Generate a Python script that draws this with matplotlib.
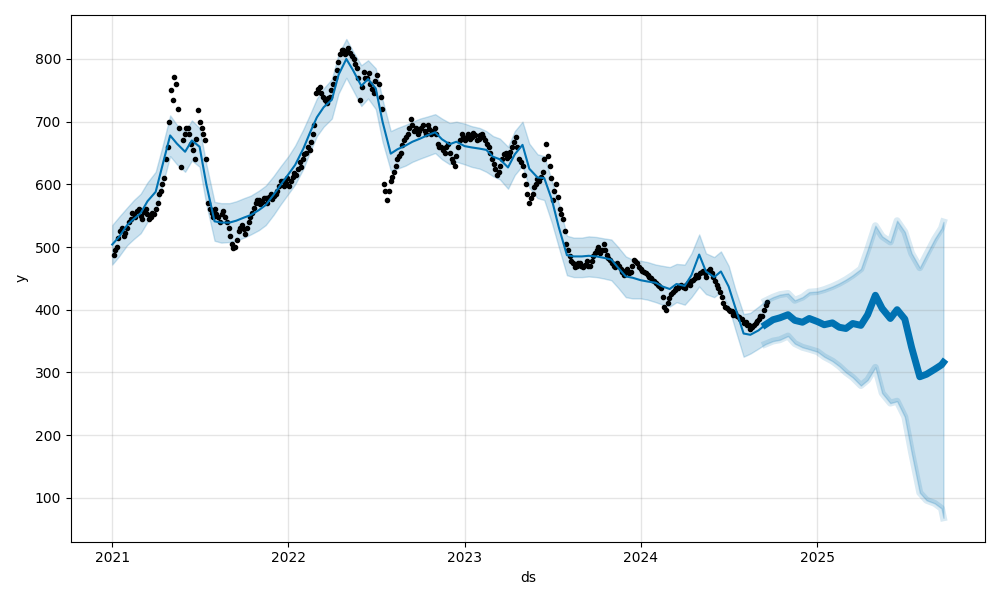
import matplotlib.pyplot as plt
import numpy as np
import pandas as pd
from matplotlib.dates import AutoDateLocator, AutoDateFormatter

# Observed values, one per week (Mondays) starting 2021-01-04
obs_2021 = [488, 500, 525, 518, 530, 545, 552, 558, 550, 556,
            552, 548, 552, 570, 590, 610, 660, 750, 772, 720,
            628, 680, 690, 665, 640, 718, 690, 670, 570, 555,
            560, 548, 552, 548, 530, 505, 500, 525, 535, 520,
            540, 555, 570, 575, 572, 578, 580, 577, 585, 598,
            605, 602]
obs_2022 = [598, 612, 615, 635, 640, 650, 655, 680, 745, 755,
            740, 730, 740, 760, 782, 808, 815, 812, 810, 800,
            785, 735, 780, 770, 760, 745, 775, 740, 600, 575,
            605, 620, 640, 650, 670, 680, 705, 685, 680, 690,
            685, 695, 680, 690, 665, 660, 650, 665, 640, 630,
            660, 680]
obs_2023 = [670, 680, 675, 678, 672, 680, 670, 660, 640, 625,
            620, 640, 650, 645, 660, 675, 640, 630, 600, 570,
            585, 600, 605, 620, 665, 630, 575, 600, 560, 545,
            505, 485, 475, 470, 475, 468, 478, 470, 485, 495,
            490, 505, 488, 480, 470, 475, 465, 455, 465, 460,
            480, 475]
obs_2024 = [465, 460, 455, 450, 445, 440, 435, 405, 410, 425,
            432, 435, 440, 435, 442, 445, 450, 452, 460, 458,
            462, 458, 445, 435, 420, 405, 400, 398, 395, 388,
            385, 380, 375, 372, 378, 385, 390, 408]

# mid-week observations (Thursdays), same weeks
mid_2021 = [495, 515, 530, 522, 540, 555, 548, 560, 545, 560,
            545, 555, 560, 585, 600, 640, 700, 735, 760, 690,
            670, 690, 680, 655, 672, 700, 680, 640, 560, 548,
            552, 540, 558, 540, 518, 498, 512, 530, 528, 530,
            548, 562, 575, 568, 578, 570, 584, 582, 590, 605,
            598, 610]
mid_2022 = [605, 618, 625, 628, 648, 660, 668, 695, 752, 745,
            735, 738, 750, 770, 795, 815, 808, 818, 805, 792,
            770, 755, 770, 778, 752, 765, 760, 720, 590, 590,
            612, 630, 645, 662, 675, 690, 695, 690, 685, 695,
            680, 688, 685, 680, 660, 655, 660, 650, 635, 645,
            670, 675]
mid_2023 = [675, 672, 682, 670, 678, 675, 665, 650, 632, 615,
            630, 648, 642, 652, 668, 660, 635, 615, 585, 578,
            595, 608, 612, 640, 645, 610, 590, 580, 552, 525,
            495, 478, 468, 475, 470, 472, 470, 478, 490, 500,
            495, 495, 482, 475, 468, 470, 460, 462, 458, 470,
            478, 468]
mid_2024 = [462, 458, 452, 448, 442, 438, 420, 400, 418, 428,
            435, 438, 436, 440, 440, 448, 455, 458, 462, 452,
            465, 452, 440, 428, 410, 402, 398, 392, 390, 385,
            378, 376, 370, 375, 382, 390, 400, 412]

# Forecast (yhat) and interval, sampled on the 1st and 15th of each month
yhat_2021 = [504, 516, 535, 545, 554, 573, 588, 630, 678, 665, 652, 670,
             660, 600, 541, 539, 539, 542, 547, 551, 559, 567, 583, 598]
yhat_2022 = [616, 631, 657, 683, 707, 723, 735, 775, 800, 782, 757, 768,
             753, 700, 649, 656, 662, 668, 673, 678, 683, 672, 664, 668]
yhat_2023 = [661, 659, 657, 655, 644, 640, 627, 648, 663, 625, 611, 610,
             575, 532, 487, 485, 485, 486, 485, 483, 480, 467, 453, 451]
yhat_2024 = [447, 445, 443, 437, 433, 441, 438, 455, 488, 461, 452, 461,
             437, 403, 362, 360, 367, 376, 384, 387, 392, 383, 380, 386]
yhat_2025 = [381, 376, 379, 372, 370, 378, 375, 392, 423, 402, 386, 400,
             385, 340, 293, 297, 305, 312, 316]

upper_2021 = [535, 548, 563, 575, 585, 603, 620, 660, 710, 695, 684, 702,
              690, 632, 572, 570, 570, 573, 578, 582, 590, 598, 613, 628]
upper_2022 = [645, 662, 688, 712, 737, 753, 768, 808, 832, 812, 790, 798,
              785, 735, 685, 690, 695, 700, 705, 708, 712, 705, 698, 700]
upper_2023 = [697, 693, 690, 685, 677, 673, 660, 685, 700, 665, 648, 645,
              605, 570, 518, 515, 515, 517, 516, 514, 512, 500, 485, 480]
upper_2024 = [478, 476, 472, 470, 468, 473, 472, 490, 520, 490, 484, 493,
              470, 432, 393, 395, 405, 414, 420, 424, 426, 415, 420, 428]
upper_2025 = [429, 432, 437, 442, 448, 455, 465, 496, 534, 517, 508, 542,
              524, 490, 467, 488, 513, 530, 540]

lower_2021 = [472, 485, 503, 513, 522, 540, 555, 598, 645, 632, 620, 638,
              628, 568, 510, 507, 508, 510, 515, 520, 527, 535, 551, 567]
lower_2022 = [585, 600, 625, 652, 677, 692, 705, 745, 770, 750, 725, 737,
              720, 668, 622, 625, 630, 636, 641, 645, 650, 640, 632, 636]
lower_2023 = [632, 628, 625, 620, 613, 608, 593, 615, 630, 595, 578, 575,
              538, 500, 455, 452, 452, 453, 452, 450, 447, 435, 420, 418]
lower_2024 = [418, 416, 412, 408, 405, 412, 408, 420, 437, 425, 420, 428,
              405, 368, 325, 330, 338, 345, 350, 352, 358, 346, 340, 337]
lower_2025 = [333, 325, 318, 310, 300, 292, 279, 288, 308, 267, 251, 254,
              229, 172, 108, 96, 91, 83, 68]

y_mon = obs_2021 + obs_2022 + obs_2023 + obs_2024
y_thu = mid_2021 + mid_2022 + mid_2023 + mid_2024
ds_mon = pd.date_range('2021-01-04', periods=len(y_mon), freq='W-MON')
ds_thu = pd.date_range('2021-01-07', periods=len(y_thu), freq='W-THU')

ds_fc = pd.date_range('2021-01-01', '2025-09-15', freq='SMS')
ds_fc = ds_fc.append(pd.DatetimeIndex(['2025-09-19']))
yhat = np.array(yhat_2021 + yhat_2022 + yhat_2023 + yhat_2024 + yhat_2025)
upper = np.array(upper_2021 + upper_2022 + upper_2023 + upper_2024 + upper_2025)
lower = np.array(lower_2021 + lower_2022 + lower_2023 + lower_2024 + lower_2025)

# future part (daily points incl. weekends) looks thick in the original
future = ds_fc >= pd.Timestamp('2024-09-15')

fig = plt.figure(facecolor='w', figsize=(10, 6))
ax = fig.add_subplot(111)
ax.plot(ds_mon, y_mon, 'k.')
ax.plot(ds_thu, y_thu, 'k.')
ax.plot(ds_fc, yhat, ls='-', c='#0072B2')
ax.plot(ds_fc[future], yhat[future], ls='-', c='#0072B2', lw=5)
ax.fill_between(ds_fc, lower, upper, color='#0072B2', alpha=0.2)
ax.plot(ds_fc[future], upper[future], c='#0072B2', alpha=0.15, lw=5)
ax.plot(ds_fc[future], lower[future], c='#0072B2', alpha=0.15, lw=5)

locator = AutoDateLocator(interval_multiples=False)
ax.xaxis.set_major_locator(locator)
ax.xaxis.set_major_formatter(AutoDateFormatter(locator))
ax.grid(True, which='major', c='gray', ls='-', lw=1, alpha=0.2)
ax.set_xlabel('ds')
ax.set_ylabel('y')
fig.tight_layout()
fig.savefig('out.png', dpi=100)
